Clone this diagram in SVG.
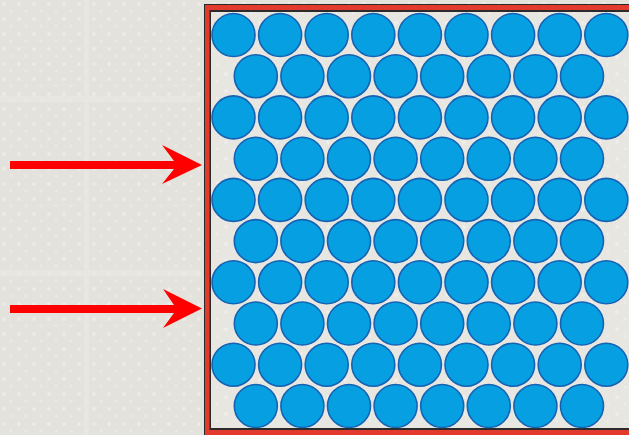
<svg xmlns="http://www.w3.org/2000/svg" width="629" height="435" viewBox="0 0 629 435">
<defs>
<style>
.c{fill:#069fe2;stroke:#1563b2;stroke-width:1.6}
.arrow{fill:#ff0000}
</style>
<pattern id="tex" width="15" height="15" patternUnits="userSpaceOnUse">
<rect width="15" height="15" fill="#e4e2dc"/>
<circle cx="4" cy="4" r="2" fill="#ecebe6"/>
<circle cx="11" cy="11" r="1.6" fill="#eae9e4"/>
</pattern>
<pattern id="tex2" width="17" height="17" patternUnits="userSpaceOnUse">
<rect width="17" height="17" fill="#e8e6e1"/>
<circle cx="5" cy="6" r="2" fill="#eeede9"/>
<circle cx="13" cy="13" r="1.5" fill="#edece8"/>
</pattern>
</defs>
<rect width="629" height="435" fill="url(#tex)"/>
<g fill="#ebe9e4" opacity="0.6">
<rect x="0" y="96" width="200" height="6"/>
<rect x="0" y="270" width="200" height="6"/>
<rect x="84" y="0" width="5" height="435"/>
</g>
<g id="frame">
<rect x="204" y="4" width="430" height="440" fill="#2b2b2b"/>
<rect x="205" y="5" width="430" height="440" fill="#e23a2c"/>
<rect x="209.5" y="10" width="430" height="420" fill="#2b2b2b"/>
<rect x="211" y="12" width="430" height="416" fill="url(#tex2)"/>
</g>
<g id="circles">
<g id="row1"><circle class="c" cx="233.5" cy="35" r="21.5"/><circle class="c" cx="280.1" cy="35" r="21.5"/><circle class="c" cx="326.7" cy="35" r="21.5"/><circle class="c" cx="373.3" cy="35" r="21.5"/><circle class="c" cx="419.9" cy="35" r="21.5"/><circle class="c" cx="466.5" cy="35" r="21.5"/><circle class="c" cx="513.1" cy="35" r="21.5"/><circle class="c" cx="559.7" cy="35" r="21.5"/><circle class="c" cx="606.3" cy="35" r="21.5"/></g>
<g id="row2"><circle class="c" cx="255.8" cy="76.2" r="21.5"/><circle class="c" cx="302.4" cy="76.2" r="21.5"/><circle class="c" cx="349" cy="76.2" r="21.5"/><circle class="c" cx="395.6" cy="76.2" r="21.5"/><circle class="c" cx="442.2" cy="76.2" r="21.5"/><circle class="c" cx="488.8" cy="76.2" r="21.5"/><circle class="c" cx="535.4" cy="76.2" r="21.5"/><circle class="c" cx="582" cy="76.2" r="21.5"/></g>
<g id="row3"><circle class="c" cx="233.5" cy="117.4" r="21.5"/><circle class="c" cx="280.1" cy="117.4" r="21.5"/><circle class="c" cx="326.7" cy="117.4" r="21.5"/><circle class="c" cx="373.3" cy="117.4" r="21.5"/><circle class="c" cx="419.9" cy="117.4" r="21.5"/><circle class="c" cx="466.5" cy="117.4" r="21.5"/><circle class="c" cx="513.1" cy="117.4" r="21.5"/><circle class="c" cx="559.7" cy="117.4" r="21.5"/><circle class="c" cx="606.3" cy="117.4" r="21.5"/></g>
<g id="row4"><circle class="c" cx="255.8" cy="158.7" r="21.5"/><circle class="c" cx="302.4" cy="158.7" r="21.5"/><circle class="c" cx="349" cy="158.7" r="21.5"/><circle class="c" cx="395.6" cy="158.7" r="21.5"/><circle class="c" cx="442.2" cy="158.7" r="21.5"/><circle class="c" cx="488.8" cy="158.7" r="21.5"/><circle class="c" cx="535.4" cy="158.7" r="21.5"/><circle class="c" cx="582" cy="158.7" r="21.5"/></g>
<g id="row5"><circle class="c" cx="233.5" cy="199.9" r="21.5"/><circle class="c" cx="280.1" cy="199.9" r="21.5"/><circle class="c" cx="326.7" cy="199.9" r="21.5"/><circle class="c" cx="373.3" cy="199.9" r="21.5"/><circle class="c" cx="419.9" cy="199.9" r="21.5"/><circle class="c" cx="466.5" cy="199.9" r="21.5"/><circle class="c" cx="513.1" cy="199.9" r="21.5"/><circle class="c" cx="559.7" cy="199.9" r="21.5"/><circle class="c" cx="606.3" cy="199.9" r="21.5"/></g>
<g id="row6"><circle class="c" cx="255.8" cy="241.1" r="21.5"/><circle class="c" cx="302.4" cy="241.1" r="21.5"/><circle class="c" cx="349" cy="241.1" r="21.5"/><circle class="c" cx="395.6" cy="241.1" r="21.5"/><circle class="c" cx="442.2" cy="241.1" r="21.5"/><circle class="c" cx="488.8" cy="241.1" r="21.5"/><circle class="c" cx="535.4" cy="241.1" r="21.5"/><circle class="c" cx="582" cy="241.1" r="21.5"/></g>
<g id="row7"><circle class="c" cx="233.5" cy="282.3" r="21.5"/><circle class="c" cx="280.1" cy="282.3" r="21.5"/><circle class="c" cx="326.7" cy="282.3" r="21.5"/><circle class="c" cx="373.3" cy="282.3" r="21.5"/><circle class="c" cx="419.9" cy="282.3" r="21.5"/><circle class="c" cx="466.5" cy="282.3" r="21.5"/><circle class="c" cx="513.1" cy="282.3" r="21.5"/><circle class="c" cx="559.7" cy="282.3" r="21.5"/><circle class="c" cx="606.3" cy="282.3" r="21.5"/></g>
<g id="row8"><circle class="c" cx="255.8" cy="323.5" r="21.5"/><circle class="c" cx="302.4" cy="323.5" r="21.5"/><circle class="c" cx="349" cy="323.5" r="21.5"/><circle class="c" cx="395.6" cy="323.5" r="21.5"/><circle class="c" cx="442.2" cy="323.5" r="21.5"/><circle class="c" cx="488.8" cy="323.5" r="21.5"/><circle class="c" cx="535.4" cy="323.5" r="21.5"/><circle class="c" cx="582" cy="323.5" r="21.5"/></g>
<g id="row9"><circle class="c" cx="233.5" cy="364.7" r="21.5"/><circle class="c" cx="280.1" cy="364.7" r="21.5"/><circle class="c" cx="326.7" cy="364.7" r="21.5"/><circle class="c" cx="373.3" cy="364.7" r="21.5"/><circle class="c" cx="419.9" cy="364.7" r="21.5"/><circle class="c" cx="466.5" cy="364.7" r="21.5"/><circle class="c" cx="513.1" cy="364.7" r="21.5"/><circle class="c" cx="559.7" cy="364.7" r="21.5"/><circle class="c" cx="606.3" cy="364.7" r="21.5"/></g>
<g id="row10"><circle class="c" cx="255.8" cy="406" r="21.5"/><circle class="c" cx="302.4" cy="406" r="21.5"/><circle class="c" cx="349" cy="406" r="21.5"/><circle class="c" cx="395.6" cy="406" r="21.5"/><circle class="c" cx="442.2" cy="406" r="21.5"/><circle class="c" cx="488.8" cy="406" r="21.5"/><circle class="c" cx="535.4" cy="406" r="21.5"/><circle class="c" cx="582" cy="406" r="21.5"/></g>
</g>
<g id="connectors">
<polygon class="arrow" points="10,161 174,161 162,145 202,165 162,184 174,169 10,169"/>
<polygon class="arrow" points="10,305 174,305 163,289 202,308.5 163,328 174,313 10,313"/>
</g>
</svg>
